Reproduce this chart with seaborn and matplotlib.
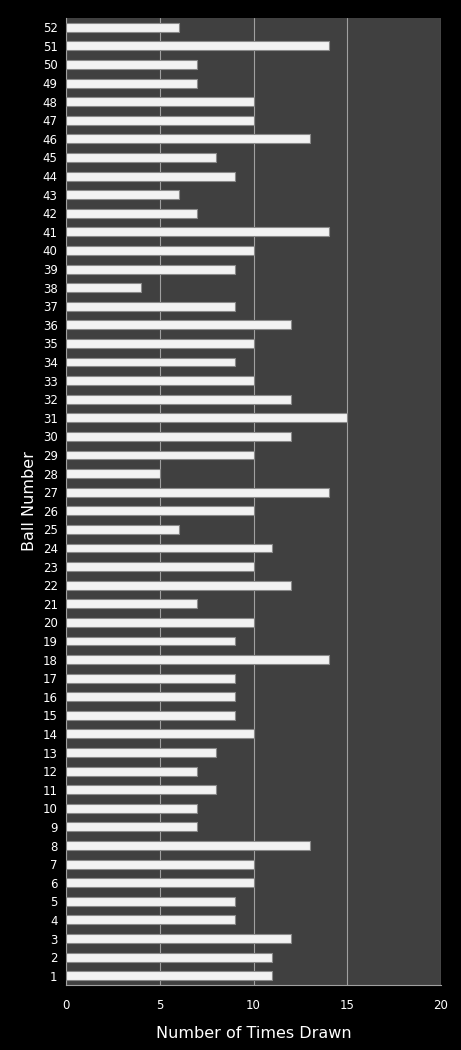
import matplotlib
matplotlib.use("Agg")
import matplotlib.pyplot as plt
import seaborn as sns
import pandas as pd

balls = list(range(1, 53))
counts = [11, 11, 12, 9, 9, 10, 10, 13, 7, 7, 8, 7, 8, 10, 9, 9, 9, 14, 9, 10,
          7, 12, 10, 11, 6, 10, 14, 5, 10, 12, 15, 12, 10, 9, 10, 12, 9, 4, 9, 10,
          14, 7, 6, 9, 8, 13, 10, 10, 7, 7, 14, 6]

df = pd.DataFrame({"ball": [str(b) for b in balls], "count": counts})
order = [str(b) for b in reversed(balls)]

sns.set_style("dark")
plt.rcParams['font.family'] = ['Verdana', 'DejaVu Sans']
fig = plt.figure(figsize=(4.61, 10.5), dpi=100, facecolor="black")
ax = fig.add_axes([66/461, 1-985/1050, 375/461, 967/1050])
ax.set_facecolor("#404040")
sns.barplot(data=df, x="count", y="ball", order=order, orient="h",
            color="#f2f2f2", edgecolor="#8a8a8a", linewidth=0.8, width=0.48,
            saturation=1, ax=ax, zorder=3)
ax.set_xlim(0, 20)
ax.set_xticks([0, 5, 10, 15, 20])
ax.xaxis.grid(True, color="#a0a0a0", linewidth=0.8, zorder=0)
ax.yaxis.grid(False)
ax.set_axisbelow(True)
for s in ax.spines.values():
    s.set_visible(True)
    s.set_color("#a0a0a0")
    s.set_linewidth(0.8)
ax.spines["top"].set_visible(False)
ax.spines["right"].set_visible(False)
ax.tick_params(colors="white", labelsize=8.5, length=0, pad=6)
ax.tick_params(axis="x", pad=10)
ax.set_xlabel("Number of Times Drawn", color="white", fontsize=11.5, labelpad=10)
ax.set_ylabel("Ball Number", color="white", fontsize=11.5, labelpad=4)
fig.savefig("out.png", dpi=100, facecolor="black")
